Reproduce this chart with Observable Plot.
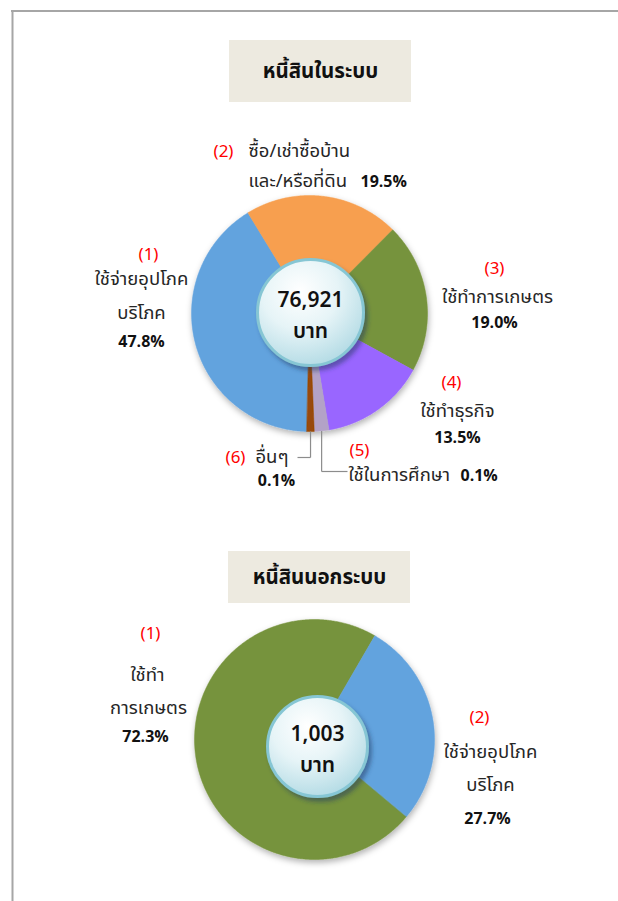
<!DOCTYPE html>
<html><head><meta charset="utf-8">
<script src="https://cdn.jsdelivr.net/npm/d3@7"></script>
<script src="https://cdn.jsdelivr.net/npm/@observablehq/plot@0.6"></script>
<style>html,body{margin:0;padding:0;background:#fff;} #chart svg{display:block;}</style>
</head><body><div id="chart"></div>
<script>
// ---------- DATA ----------
const inTitle = "หนี้สินในระบบ";
const inCategories = ["ใช้จ่ายอุปโภคบริโภค", "ซื้อ/เช่าซื้อบ้านและ/หรือที่ดิน", "ใช้ทำการเกษตร", "ใช้ทำธุรกิจ", "ใช้ในการศึกษา", "อื่นๆ"];
const inLabelLines = [["ใช้จ่ายอุปโภค", "บริโภค"], ["ซื้อ/เช่าซื้อบ้าน", "และ/หรือที่ดิน"], ["ใช้ทำการเกษตร"], ["ใช้ทำธุรกิจ"], ["ใช้ในการศึกษา"], ["อื่นๆ"]];
const inLabelPct = [47.8, 19.5, 19.0, 13.5, 0.1, 0.1];           // printed percentages
const inSliceShare = [40.9, 21.2, 20.5, 14.4, 2.0, 1.0];         // slice sizes as drawn in the picture
const inTotal = 76921;

const outTitle = "หนี้สินนอกระบบ";
const outCategories = ["ใช้ทำการเกษตร", "ใช้จ่ายอุปโภคบริโภค"];
const outLabelLines = [["ใช้ทำ", "การเกษตร"], ["ใช้จ่ายอุปโภค", "บริโภค"]];
const outLabelPct = [72.3, 27.7];
const outSliceShare = [72.3, 27.7];
const outTotal = 1003;
const unitLabel = "บาท";

// ---------- STYLE / LAYOUT ----------
const W = 618, H = 901;
const FONT = "Tahoma, 'Leelawadee UI', 'Noto Sans Thai', 'Noto Sans', 'DejaVu Sans', sans-serif";
const inColors = ["#62a3de", "#f79f4f", "#76933c", "#9966ff", "#b3a2c7", "#984807"];
const outColors = ["#76933c", "#62a3de"];
const pie1 = {cx: 309, cy: 313, r: 118, start: 181.3, hubX: 310, hubY: 312, hubR: 53};
const pie2 = {cx: 314, cy: 739, r: 120, start: 129.9, hubX: 317, hubY: 746, hubR: 50};
const titleBoxes = [
  {text: inTitle, x1: 229, x2: 411, y1: 40, y2: 102},
  {text: outTitle, x1: 228, x2: 410, y1: 551, y2: 603}
];
// label layout: [num pos], [line positions], [pct pos], anchors
const inLayout = [
  {num: [148, 254, "middle"], lines: [[141, 279, "middle"], [141, 313, "middle"]], pct: [141, 341, "middle"]},
  {num: [223, 151, "middle"], lines: [[248, 151, "start"], [248, 181, "start"]], pct: [360, 181, "start"]},
  {num: [494, 268, "middle"], lines: [[497, 297, "middle"]], pct: [494, 322, "middle"]},
  {num: [451, 382, "middle"], lines: [[457, 411, "middle"]], pct: [457, 437, "middle"]},
  {num: [359, 450, "middle"], lines: [[348, 475, "start"]], pct: [460, 475, "start"], leader: [471, 347]},
  {num: [235, 457, "middle"], lines: [[255, 457, "start"]], pct: [276, 480, "middle"], leader: [457, 297]}
];
const outLayout = [
  {num: [150, 633, "middle"], lines: [[147, 675, "middle"], [148, 708, "middle"]], pct: [145, 736, "middle"]},
  {num: [479, 717, "middle"], lines: [[490, 752, "middle"], [490, 785, "middle"]], pct: [487, 818, "middle"]}
];

// ---------- BUILD ----------
function slices(values, colors, geo, key) {
  const a0 = geo.start * Math.PI / 180;
  const arcs = d3.pie().sort(null).startAngle(a0).endAngle(a0 + 2 * Math.PI)(values);
  const pts = [];
  arcs.forEach((a, i) => {
    const n = Math.max(2, Math.ceil((a.endAngle - a.startAngle) / (Math.PI / 360)));
    pts.push({key: key + i, x: geo.cx, y: geo.cy, color: colors[i]});
    for (let k = 0; k <= n; k++) {
      const t = a.startAngle + (a.endAngle - a.startAngle) * k / n;
      pts.push({key: key + i, x: geo.cx + geo.r * Math.sin(t), y: geo.cy - geo.r * Math.cos(t), color: colors[i]});
    }
  });
  return {pts, arcs};
}
const s1 = slices(inSliceShare, inColors, pie1, "in");
const s2 = slices(outSliceShare, outColors, pie2, "out");

const rows = [];
function addLabels(lines, pcts, layout) {
  lines.forEach((ls, i) => {
    const L = layout[i];
    rows.push({kind: "num", text: `(${i + 1})`, x: L.num[0], y: L.num[1], anchor: L.num[2]});
    ls.forEach((t, j) => rows.push({kind: "line", text: t, x: L.lines[j][0], y: L.lines[j][1], anchor: L.lines[j][2]}));
    rows.push({kind: "pct", text: pcts[i].toFixed(1) + "%", x: L.pct[0], y: L.pct[1], anchor: L.pct[2]});
  });
}
addLabels(inLabelLines, inLabelPct, inLayout);
addLabels(outLabelLines, outLabelPct, outLayout);

// leader lines for the small slices
const leaders = [];
inLayout.forEach((L, i) => {
  if (!L.leader) return;
  const a = s1.arcs[i];
  const t = (a.startAngle + a.endAngle) / 2;
  const px = pie1.cx + pie1.r * Math.sin(t), py = pie1.cy - pie1.r * Math.cos(t);
  leaders.push({x1: px, y1: py, x2: px, y2: L.leader[0]});
  leaders.push({x1: px, y1: L.leader[0], x2: L.leader[1], y2: L.leader[0]});
});

const hubs = [
  {x: pie1.hubX, y: pie1.hubY, r: pie1.hubR, total: inTotal},
  {x: pie2.hubX, y: pie2.hubY, r: pie2.hubR, total: outTotal}
];
const fmt = d3.format(",");

const textStyles = {
  num: {fill: "#ff0000", fontSize: 17, fontWeight: "normal"},
  line: {fill: "#262626", fontSize: 18.5, fontWeight: "normal"},
  pct: {fill: "#111", fontSize: 16, fontWeight: "bold"}
};
const textMarks = [];
for (const kind of ["num", "line", "pct"]) {
  for (const anchor of ["start", "middle"]) {
    const d = rows.filter(r => r.kind === kind && r.anchor === anchor);
    if (d.length) textMarks.push(Plot.text(d, {x: "x", y: "y", text: "text", textAnchor: anchor, lineAnchor: "middle", ...textStyles[kind]}));
  }
}

const chart = Plot.plot({
  width: W, height: H, margin: 0,
  x: {domain: [0, W], range: [0, W], axis: null},
  y: {domain: [0, H], range: [0, H], axis: null},
  r: {type: "identity"},
  color: {type: "identity"},
  style: {background: "#fff", fontFamily: FONT, overflow: "hidden"},
  marks: [
    Plot.ruleX([12], {y1: 10, y2: H, stroke: "#a6a6a6", strokeWidth: 2}),
    Plot.ruleY([10.5], {x1: 11, x2: W, stroke: "#a6a6a6", strokeWidth: 2}),
    Plot.rect(titleBoxes, {x1: "x1", x2: "x2", y1: "y1", y2: "y2", fill: "#edeae0"}),
    Plot.text(titleBoxes, {x: d => (d.x1 + d.x2) / 2, y: d => (d.y1 + d.y2) / 2, text: "text", fontSize: 20.5, fontWeight: "bold", fill: "#111", lineAnchor: "middle"}),
    Plot.line(s1.pts, {x: "x", y: "y", z: "key", fill: "color", stroke: "color", strokeWidth: 0.5, curve: "linear-closed"}),
    Plot.line(s2.pts, {x: "x", y: "y", z: "key", fill: "color", stroke: "color", strokeWidth: 0.5, curve: "linear-closed"}),
    Plot.link(leaders, {x1: "x1", y1: "y1", x2: "x2", y2: "y2", stroke: "#8c8c8c", strokeWidth: 1.2}),
    Plot.dot(hubs, {x: "x", y: "y", r: "r", fill: "url(#hubGrad)", stroke: "#86c6d4", strokeWidth: 3}),
    Plot.text(hubs, {x: "x", y: d => d.y - 12, text: d => fmt(d.total), fontSize: 21, fontWeight: "600", fill: "#111", lineAnchor: "middle"}),
    Plot.text(hubs, {x: "x", y: d => d.y + 19, text: () => unitLabel, fontSize: 21, fontWeight: "600", fill: "#111", lineAnchor: "middle"}),
    ...textMarks
  ]
});
document.getElementById("chart").appendChild(chart);

const svg = d3.select(chart);
const defs = svg.insert("defs", ":first-child");
const f1 = defs.append("filter").attr("id", "pieShadow").attr("x", "-20%").attr("y", "-20%").attr("width", "140%").attr("height", "140%");
f1.append("feDropShadow").attr("dx", 1).attr("dy", 3).attr("stdDeviation", 3).attr("flood-color", "#000").attr("flood-opacity", 0.3);
const f2 = defs.append("filter").attr("id", "hubShadow").attr("x", "-30%").attr("y", "-30%").attr("width", "160%").attr("height", "160%");
f2.append("feDropShadow").attr("dx", 3).attr("dy", 4).attr("stdDeviation", 2).attr("flood-color", "#1b3560").attr("flood-opacity", 0.5);
const g = defs.append("radialGradient").attr("id", "hubGrad").attr("cx", "40%").attr("cy", "30%").attr("r", "80%");
g.append("stop").attr("offset", "0%").attr("stop-color", "#ffffff");
g.append("stop").attr("offset", "45%").attr("stop-color", "#e6f4f7");
g.append("stop").attr("offset", "100%").attr("stop-color", "#a9d6e1");
svg.selectAll('g[aria-label="line"]').attr("filter", "url(#pieShadow)");
svg.selectAll('g[aria-label="dot"]').attr("filter", "url(#hubShadow)");
</script>
</body></html>
